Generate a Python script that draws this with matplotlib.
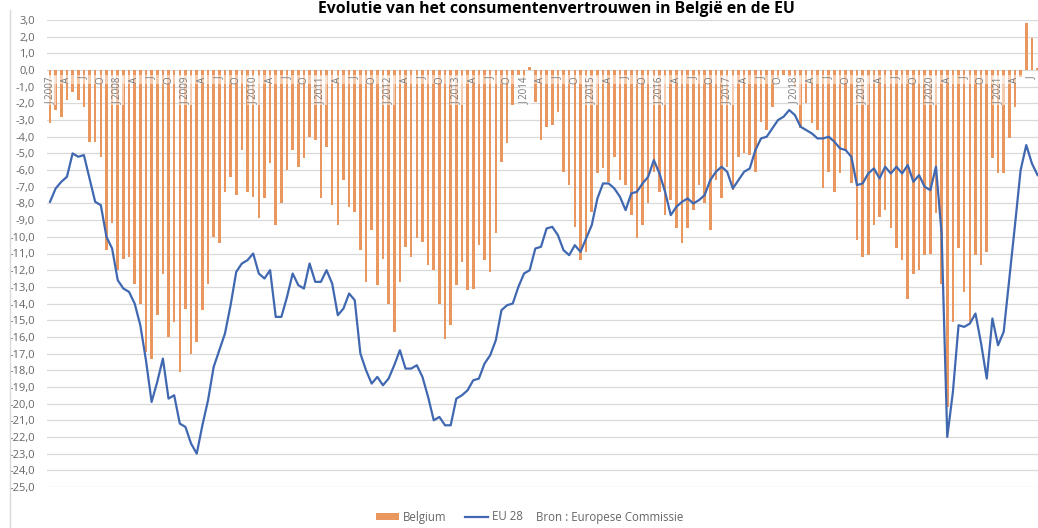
import numpy as np
import matplotlib.pyplot as plt
from matplotlib.lines import Line2D

# monthly data, Jan 2007 - Aug 2021
years = list(range(2007, 2022))
month_marks = {0: 'J', 3: 'A', 6: 'J', 9: 'O'}

belgium = [
    -3.2, -2.4, -2.8, -1.8, -1.3, -1.8, -2.2, -4.3, -4.3, -5.2, -10.8, -9.2,       # 2007
    -12.0, -11.3, -11.2, -12.8, -14.0, -16.9, -17.3, -14.7, -12.2, -16.0, -15.1, -18.1,  # 2008
    -14.3, -17.0, -16.3, -14.4, -12.8, -10.0, -10.4, -7.3, -6.4, -7.5, -4.8, -7.3,  # 2009
    -7.6, -8.9, -7.7, -5.6, -9.3, -8.0, -6.0, -4.8, -5.8, -5.3, -4.0, -4.2,         # 2010
    -7.7, -4.6, -8.1, -9.3, -6.6, -8.2, -8.5, -10.8, -12.7, -9.6, -12.9, -11.3,     # 2011
    -14.0, -15.7, -12.7, -10.6, -11.2, -10.1, -10.3, -11.7, -12.0, -14.0, -16.1, -15.3,  # 2012
    -12.9, -11.5, -13.2, -13.1, -10.5, -11.4, -12.1, -9.8, -5.5, -4.4, -2.1, -0.3,  # 2013
    -0.5, 0.2, -1.9, -4.2, -3.4, -3.3, -2.5, -6.1, -6.9, -9.4, -11.4, -10.9,        # 2014
    -8.5, -6.2, -5.9, -6.7, -5.2, -6.6, -6.9, -8.7, -10.1, -9.3, -8.0, -6.1,        # 2015
    -7.3, -8.7, -7.8, -9.5, -10.4, -9.5, -8.4, -6.9, -8.0, -9.6, -6.6, -7.7,        # 2016
    -5.8, -7.2, -5.2, -5.0, -5.1, -6.1, -3.1, -3.6, -2.2, -0.5, -0.3, -0.4,         # 2017
    -1.0, -3.5, -2.0, -3.2, -3.6, -7.1, -6.1, -7.3, -6.2, -4.8, -6.8, -10.2,        # 2018
    -11.2, -11.1, -9.3, -8.8, -8.4, -9.5, -10.7, -11.4, -13.7, -12.2, -12.0, -11.1, # 2019
    -11.0, -8.6, -12.8, -20.2, -15.1, -10.7, -13.3, -15.1, -11.1, -11.7, -10.9, -5.3,  # 2020
    -6.2, -6.2, -4.1, -2.2, -0.4, 2.8, 1.9, 0.1,                                    # 2021
]

eu28 = [
    -7.9, -7.1, -6.7, -6.4, -5.0, -5.2, -5.1, -6.5, -7.9, -8.1, -10.0, -10.7,
    -12.6, -13.1, -13.3, -14.0, -15.3, -17.4, -19.9, -18.7, -17.3, -19.7, -19.5, -21.2,
    -21.4, -22.4, -23.0, -21.3, -19.8, -17.8, -16.8, -15.8, -14.1, -12.1, -11.6, -11.4,
    -11.0, -12.2, -12.5, -12.0, -14.8, -14.8, -13.6, -12.2, -12.9, -13.1, -11.6, -12.7,
    -12.7, -12.0, -12.8, -14.7, -14.3, -13.4, -13.8, -17.0, -18.0, -18.8, -18.4, -18.9,
    -18.5, -17.7, -16.8, -17.9, -17.9, -17.7, -18.4, -19.6, -21.0, -20.8, -21.3, -21.3,
    -19.7, -19.5, -19.2, -18.6, -18.5, -17.6, -17.1, -16.2, -14.4, -14.1, -14.0, -13.0,
    -12.2, -12.0, -10.7, -10.6, -9.5, -9.4, -9.9, -10.8, -11.1, -10.5, -10.9, -10.1,
    -9.3, -7.7, -6.8, -6.8, -7.1, -7.6, -8.4, -7.4, -7.3, -6.8, -6.4, -5.4,
    -6.2, -7.3, -8.7, -8.2, -7.9, -7.7, -8.0, -7.8, -7.5, -6.6, -6.1, -5.8,
    -6.1, -7.1, -6.6, -6.1, -5.9, -4.8, -4.1, -4.0, -3.5, -3.0, -2.8, -2.4,
    -2.7, -3.4, -3.6, -3.8, -4.1, -4.1, -4.0, -4.3, -4.7, -4.8, -5.2, -6.9,
    -6.8, -6.2, -5.9, -6.5, -5.8, -6.2, -5.8, -6.2, -5.7, -6.7, -6.3, -7.0,
    -7.2, -5.8, -9.8, -22.0, -19.3, -15.3, -15.4, -15.2, -14.6, -16.4, -18.5, -14.9,
    -16.5, -15.7, -12.5, -9.3, -6.0, -4.5, -5.6, -6.3,
]

n = len(belgium)
x = np.arange(n)

# category labels: J <year>, A, J, O
cat_labels = []
for i in range(n):
    m = i % 12
    if m == 0:
        cat_labels.append('J ' + str(years[i // 12]))
    else:
        cat_labels.append(month_marks.get(m, ''))

W, H = 1038, 528
fig = plt.figure(figsize=(W / 100, H / 100), dpi=100)
plt.rcParams['font.family'] = ['Open Sans', 'DejaVu Sans']

left = 47.2 / W
width = (n * 5.643) / W
ax = fig.add_axes([left, 41 / H, width, (487 - 20) / H])

bars = ax.bar(x, belgium, width=0.45, color='#E9975F', zorder=2, label='Belgium')
line, = ax.plot(x, eu28, color='#4068B0', lw=1.6, zorder=5, label='EU 28')

ax.set_xlim(-0.5, n - 0.5)
ax.set_ylim(-25, 3)
ax.set_yticks(np.arange(-25, 4, 1))
ax.set_yticklabels([f'{v:.1f}'.replace('.', ',') for v in np.arange(-25, 4, 1)])
ax.tick_params(axis='y', length=0, pad=9, labelsize=8, labelcolor='#666666')
ax.set_xticks([])
ax.grid(axis='y', color='#D9D9D9', lw=0.9, zorder=0)
ax.set_axisbelow(True)
for s in ax.spines.values():
    s.set_visible(False)

# light band behind the category labels
ax.axhspan(-0.85, -0.3, facecolor='white', alpha=0.5, lw=0, zorder=3)
for i, lab in enumerate(cat_labels):
    if not lab:
        continue
    box = None
    if lab.startswith('J '):
        box = dict(boxstyle='square,pad=0.1', fc='white', ec='none', alpha=0.5)
    ax.text(i, -0.4, lab, rotation=90, ha='center', va='top', fontsize=7,
            color='#777777', zorder=4, bbox=box)

# title
fig.text(556 / W, 1 - 13 / H, 'Evolutie van het consumentenvertrouwen in België en de EU',
         ha='center', va='baseline', fontsize=11.3, fontweight='bold', color='black')

# chart border on the left
fig.add_artist(Line2D([10 / W, 10 / W], [0, 1 - 10 / H], color='#D9D9D9', lw=1))

leg = fig.legend(handles=[bars, line], loc='center left', bbox_to_anchor=(370 / W, 1 - 517 / H),
                 ncol=2, frameon=False, fontsize=8.3, handlelength=2.0, handleheight=0.6,
                 columnspacing=1.6, handletextpad=0.35, borderpad=0)
for t in leg.get_texts():
    t.set_color('#666666')
fig.text(536 / W, 1 - 517 / H, 'Bron : Europese Commissie', ha='left', va='center',
         fontsize=8.3, color='#666666')

fig.savefig('out.png', dpi=100)
